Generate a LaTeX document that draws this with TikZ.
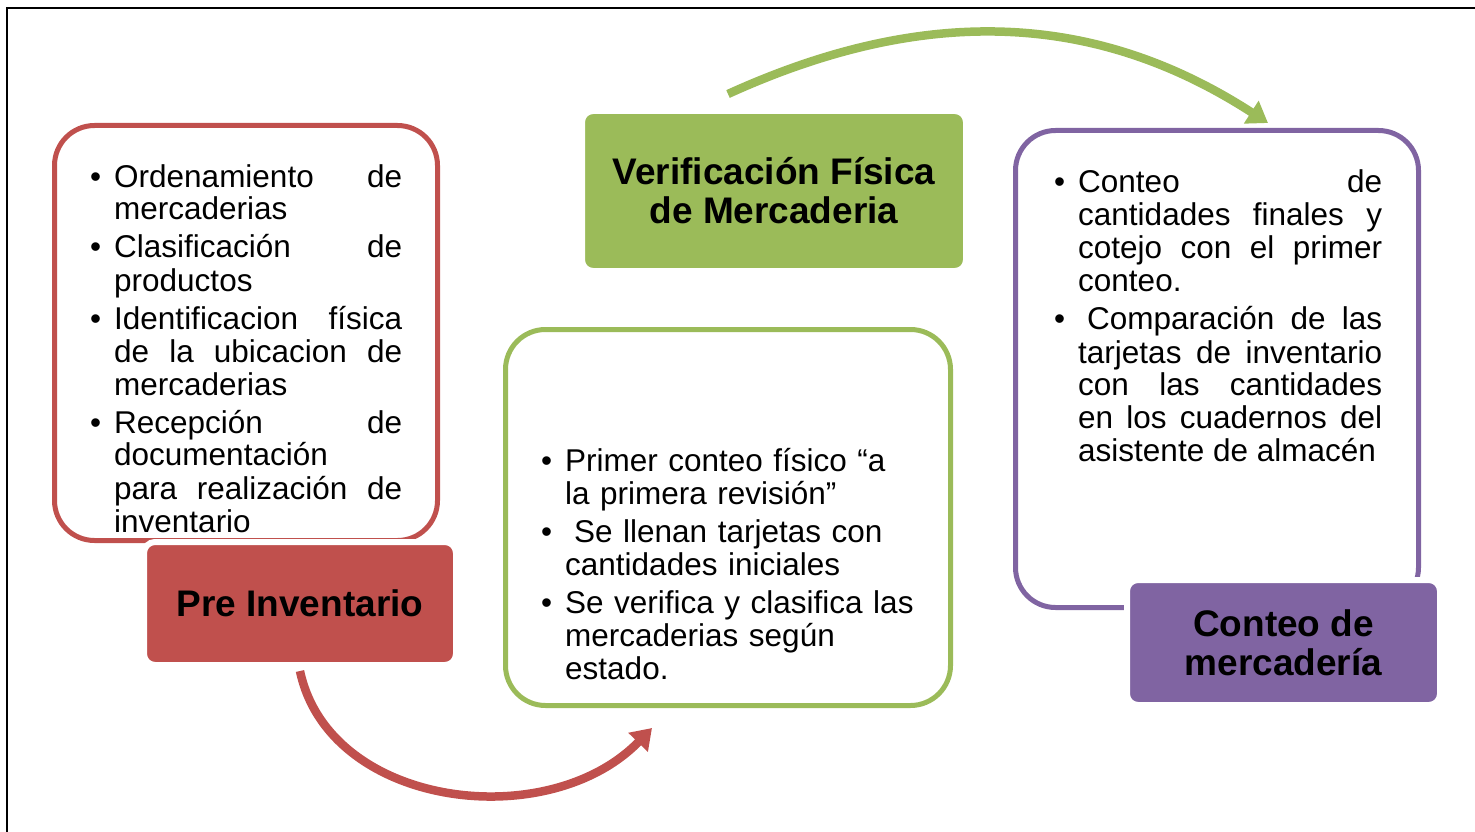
\documentclass[tikz,border=0pt]{standalone}
\usepackage{fontspec}
\setmainfont{Liberation Sans}
\usepackage{enumitem}
\usepackage{tikz}
\usetikzlibrary{arrows.meta}

\definecolor{rojo}{HTML}{C0504D}
\definecolor{verde}{HTML}{9BBB59}
\definecolor{morado}{HTML}{8064A2}

\setlist[itemize]{label=\textbullet,leftmargin=20pt,labelsep=13pt,itemsep=5pt,topsep=0pt,parsep=0pt,partopsep=0pt}
\tolerance=10000
\hyphenpenalty=10000

\begin{document}
\begin{tikzpicture}[x=1pt,y=-1pt]
	\useasboundingbox (0,0) rectangle (1475,832);
	\draw[line width=1.2pt] (7,832) -- (7,8) -- (1475,8);

	\begin{scope}[every node/.style={rectangle,rounded corners=40pt,line width=5pt,fill=white,inner sep=0pt}]
		\node[draw=rojo,minimum width=383pt,minimum height=415pt] (preCaja) at (246,333) {};
		\node[draw=verde,minimum width=445pt,minimum height=376pt] (verCaja) at (728,517.5) {};
		\node[draw=morado,minimum width=403pt,minimum height=477pt] (conCaja) at (1217,369) {};
	\end{scope}

	\begin{scope}[every node/.style={anchor=base west,inner sep=0pt,font=\fontsize{31.5}{33}\selectfont}]
		\node[text width=308pt,align=justify] (preLista) at (94,154) {
		\begin{itemize}
			\item Ordenamiento de\linebreak mercaderias
			\item Clasificación de\linebreak productos
			\item Identificacion física\linebreak de la ubicacion de\linebreak mercaderias
			\item Recepción de\linebreak documentación\newline para realización de\linebreak inventario
		\end{itemize}
		};
		\node[text width=380pt,align=left] (verLista) at (545,438) {
		\begin{itemize}
			\item Primer conteo físico “a\newline la primera revisión”
			\item \hspace*{9pt}Se llenan tarjetas con\newline cantidades iniciales
			\item Se verifica y clasifica las\newline mercaderias según\newline estado.
		\end{itemize}
		};
		\node[text width=324pt,align=justify] (conLista) at (1058,160) {
		\begin{itemize}
			\item Conteo de\linebreak cantidades finales y\linebreak cotejo con el primer\linebreak conteo.
			\item \hspace*{9pt}Comparación de las\linebreak tarjetas de inventario\linebreak con las cantidades\linebreak en los cuadernos del\linebreak asistente de almacén
		\end{itemize}
		};
	\end{scope}

	\begin{scope}[every node/.style={rectangle,rounded corners=11pt,draw=white,line width=6pt,inner sep=0pt,align=center,font=\fontsize{37}{39}\selectfont\bfseries}]
		\node[fill=rojo,minimum width=312pt,minimum height=123pt] (preTitulo) at (300,603.5) {Pre Inventario};
		\node[fill=verde,minimum width=384pt,minimum height=160pt] (verTitulo) at (774,191) {Verificación Física\\de Mercaderia};
		\node[fill=morado,minimum width=313pt,minimum height=125pt] (conTitulo) at (1283.5,642.5) {Conteo de\\mercadería};
	\end{scope}

	\begin{scope}[every path/.style={line width=8.5pt,-{Triangle[length=20pt,width=26pt]}}]
		\coordinate (preCola) at ([yshift=-3pt]preTitulo.south);
		\coordinate (verPunta) at ([xshift=-76pt,yshift=-20pt]verCaja.south);
		\coordinate (verCola) at ([xshift=-46pt,yshift=14pt]verTitulo.north);
		\coordinate (conPunta) at ([xshift=51pt,yshift=5pt]conCaja.north);
		\draw[rojo] (preCola) .. controls (329,808) and (548,835) .. (verPunta);
		\draw[verde] (verCola) .. controls (928,3) and (1098,13) .. (conPunta);
	\end{scope}
\end{tikzpicture}
\end{document}
